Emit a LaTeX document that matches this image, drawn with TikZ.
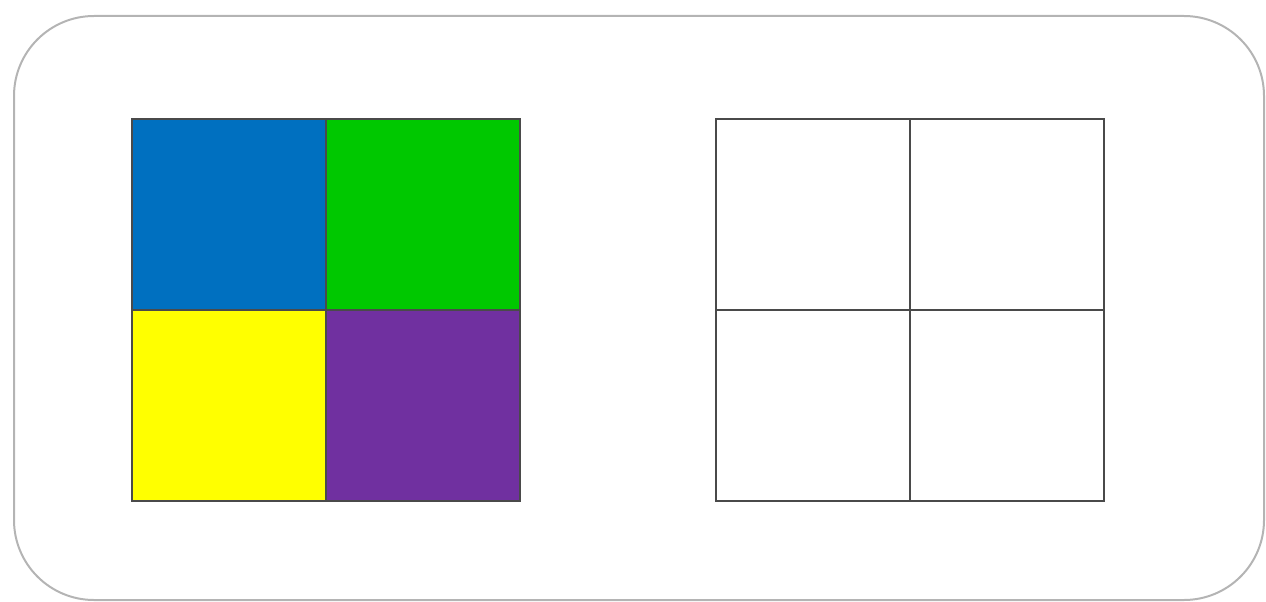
\documentclass[tikz,border=0pt]{standalone}
\usepackage{xcolor}
\usepackage{tikz}
\definecolor{cellblue}{HTML}{0070C0}
\definecolor{cellgreen}{HTML}{00C800}
\definecolor{cellyellow}{HTML}{FFFF00}
\definecolor{cellpurple}{HTML}{7030A0}
\definecolor{gridgray}{HTML}{4A4A4A}
\definecolor{framegray}{HTML}{B4B4B4}
\tikzset{
  frame/.style={draw=framegray,line width=2pt,rounded corners=80pt},
  cell/.style={draw=gridgray,line width=1.6pt,inner sep=0pt,anchor=north west,
    minimum width=194pt,minimum height=191pt}
}
\begin{document}
\begin{tikzpicture}[x=1pt,y=-1pt]
  \useasboundingbox (0,0) rectangle (1266,602);
  \draw[frame] (14,16) rectangle (1264,600);
  % coloured grid
  \foreach \c/\r/\col in {0/0/cellblue,1/0/cellgreen,0/1/cellyellow,1/1/cellpurple}
    \node[cell,fill=\col] (L\c\r) at ({131+194*\c},{118+191*\r}) {};
  % empty grid
  \foreach \c in {0,1}
    \foreach \r in {0,1}
      \node[cell] (R\c\r) at ({715+194*\c},{118+191*\r}) {};
\end{tikzpicture}
\end{document}
